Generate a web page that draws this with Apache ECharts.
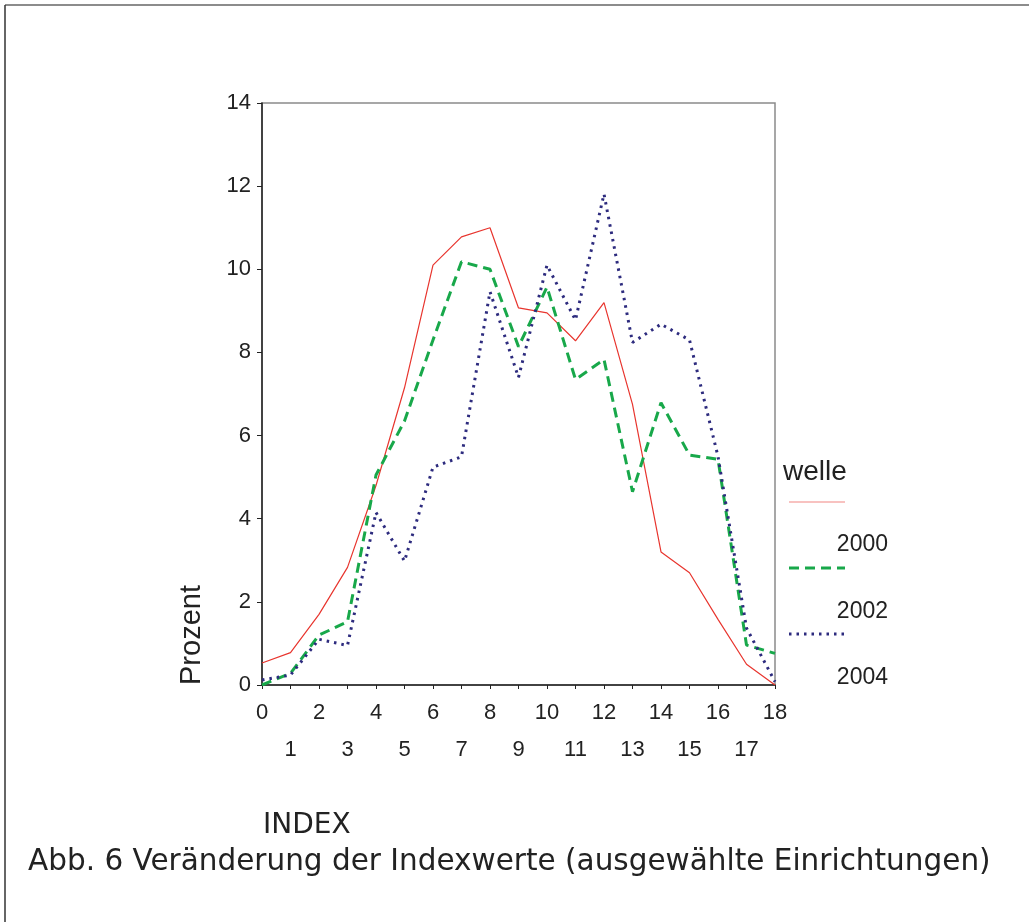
<!DOCTYPE html>
<html>
<head>
<meta charset="utf-8">
<script src="https://cdn.jsdelivr.net/npm/echarts@6/dist/echarts.min.js"></script>
<style>
html,body{margin:0;padding:0;background:#fff;}
#chart{width:1029px;height:922px;}
</style>
</head>
<body>
<div id="chart"></div>
<script>
const indexValues = [0,1,2,3,4,5,6,7,8,9,10,11,12,13,14,15,16,17,18];
const welle2000 = [0.53,0.78,1.7,2.83,4.8,7.15,10.1,10.78,11.0,9.07,8.95,8.28,9.2,6.75,3.2,2.7,1.58,0.5,0];
const welle2002 = [0,0.28,1.2,1.52,5.05,6.35,8.3,10.18,10.0,8.14,9.57,7.35,7.83,4.65,6.79,5.53,5.43,0.96,0.76];
const welle2004 = [0.12,0.24,1.1,0.95,4.15,2.98,5.24,5.49,9.46,7.4,10.1,8.78,11.81,8.24,8.68,8.3,5.5,1.37,0.08];
const seriesNames = ['2000','2002','2004'];
const yTicks = [0,2,4,6,8,10,12,14];

const pairs = arr => indexValues.map((x,i)=>[x, arr[i]]);
const sans = "'Liberation Sans', Arial, sans-serif";
const caps = "'DejaVu Sans', sans-serif";
const cRed = '#e8352e', cGreen = '#18a84a', cBlue = '#2d2b7e';

const chart = echarts.init(document.getElementById('chart'), null, {renderer:'canvas'});
chart.setOption({
  backgroundColor:'#fff',
  animation:false,
  grid:{left:262, top:103, width:513, height:582, show:true, borderColor:'#8a8a8a', borderWidth:1.5, backgroundColor:'transparent'},
  xAxis:{
    type:'value', min:0, max:18, interval:1,
    axisLine:{show:true, onZero:false, lineStyle:{color:'#222', width:1.5}},
    axisTick:{show:true, length:4, lineStyle:{color:'#222'}},
    splitLine:{show:false},
    axisLabel:{
      fontFamily:sans, fontSize:22, color:'#222', margin:9, lineHeight:37,
      formatter: v => (v % 2 ? '\n' + v : '' + v)
    }
  },
  yAxis:{
    type:'value', min:0, max:14, interval:2,
    axisLine:{show:true, lineStyle:{color:'#222', width:1.5}},
    axisTick:{show:true, length:5, lineStyle:{color:'#222'}},
    splitLine:{show:false},
    axisLabel:{fontFamily:sans, fontSize:22, color:'#222', margin:11,
      formatter: v => (yTicks.indexOf(v) >= 0 ? '' + v : '')}
  },
  series:[
    {name:seriesNames[0], type:'line', data:pairs(welle2000), showSymbol:false,
     lineStyle:{color:cRed, width:1.2}, z:3},
    {name:seriesNames[1], type:'line', data:pairs(welle2002), showSymbol:false,
     lineStyle:{color:cGreen, width:3, type:[10,6]}, z:4},
    {name:seriesNames[2], type:'line', data:pairs(welle2004), showSymbol:false,
     lineStyle:{color:cBlue, width:3, type:[2.5,5]}, z:5}
  ],
  graphic:[
    {type:'line', shape:{x1:5,y1:5,x2:1029,y2:5}, style:{stroke:'#8c8c8c', lineWidth:2}},
    {type:'line', shape:{x1:5,y1:5,x2:5,y2:922}, style:{stroke:'#333', lineWidth:1.5}},
    {type:'text', x:192, y:685, rotation:Math.PI/2,
     style:{text:'Prozent', font:'29px ' + sans, fill:'#222', textAlign:'left', textVerticalAlign:'middle'}},
    {type:'text', x:263, y:826,
     style:{text:'INDEX', font:'28px ' + caps, fill:'#222', textAlign:'left', textVerticalAlign:'middle'}},
    {type:'text', x:28, y:862,
     style:{text:'Abb. 6 Veränderung der Indexwerte (ausgewählte Einrichtungen)', font:'29.5px ' + caps, fill:'#222', textAlign:'left', textVerticalAlign:'middle'}},
    {type:'text', x:783, y:472,
     style:{text:'welle', font:'28px ' + sans, fill:'#222', textAlign:'left', textVerticalAlign:'middle'}},
    {type:'line', shape:{x1:789,y1:502,x2:845,y2:502}, style:{stroke:cRed, lineWidth:1.2, opacity:0.6}},
    {type:'text', x:888, y:545,
     style:{text:seriesNames[0], font:'23px ' + sans, fill:'#222', textAlign:'right', textVerticalAlign:'middle'}},
    {type:'line', shape:{x1:789,y1:568,x2:845,y2:568}, style:{stroke:cGreen, lineWidth:3, lineDash:[10,6]}},
    {type:'text', x:888, y:612,
     style:{text:seriesNames[1], font:'23px ' + sans, fill:'#222', textAlign:'right', textVerticalAlign:'middle'}},
    {type:'line', shape:{x1:789,y1:634,x2:845,y2:634}, style:{stroke:cBlue, lineWidth:3, lineDash:[2.5,5]}},
    {type:'text', x:888, y:678,
     style:{text:seriesNames[2], font:'23px ' + sans, fill:'#222', textAlign:'right', textVerticalAlign:'middle'}}
  ]
});
</script>
</body>
</html>
